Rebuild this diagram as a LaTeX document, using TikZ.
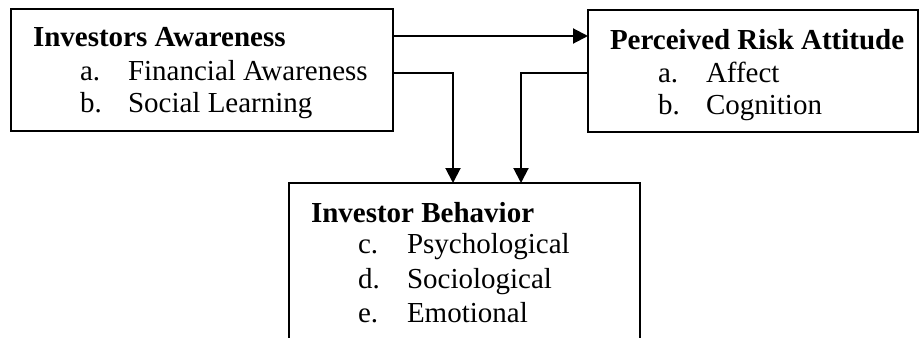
\documentclass[tikz,border=0pt]{standalone}
\usepackage{fontspec}
\setmainfont{Liberation Serif}
\usetikzlibrary{arrows.meta}
\begin{document}
\begin{tikzpicture}[x=1pt,y=-1pt,
  box/.style={draw, line width=2pt, rectangle, inner sep=0pt, outer sep=0pt},
  txt/.style={anchor=base west, inner sep=0pt, outer sep=0pt, font=\fontsize{29}{33}\selectfont},
  head/.style={txt, font=\fontsize{29}{33}\selectfont\bfseries},
  arr/.style={line width=2pt, -{Triangle[length=15pt,width=15pt]}}]
\clip (0,0) rectangle (920,337);
\fill[white] (0,0) rectangle (920,337);
% boxes
\node[box, minimum width=382pt, minimum height=121.5pt] (b1) at (202,70.25) {};
\node[box, minimum width=330pt, minimum height=122pt] (b2) at (753,71) {};
\node[box, minimum width=351pt, minimum height=217pt] (b3) at (464.5,291.5) {};
% box 1 text
\node[head] (h1) at (33,47) {Investors Awareness};
\node[txt] (l1a) at (80,81) {a.};
\node[txt] (t1a) at (128,81) {Financial Awareness};
\node[txt] (l1b) at (80,112) {b.};
\node[txt] (t1b) at (128,112) {Social Learning};
% box 2 text
\node[head] (h2) at (610,49) {Perceived Risk Attitude};
\node[txt] (l2a) at (658,82) {a.};
\node[txt] (t2a) at (706,82) {Affect};
\node[txt] (l2b) at (658,114) {b.};
\node[txt] (t2b) at (706,114) {Cognition};
% box 3 text
\node[head] (h3) at (311,222) {Investor Behavior};
\node[txt] (l3c) at (358,253) {c.};
\node[txt] (t3c) at (407,253) {Psychological};
\node[txt] (l3d) at (358,288) {d.};
\node[txt] (t3d) at (407,288) {Sociological};
\node[txt] (l3e) at (358,322) {e.};
\node[txt] (t3e) at (407,322) {Emotional};
% connectors
\coordinate (ya) at (0,36);
\coordinate (yb) at (0,73);
\coordinate (xa) at (453,0);
\coordinate (xb) at (521,0);
\draw[arr] (b1.east |- ya) -- (b2.west |- ya);
\draw[arr] (b1.east |- yb) -| (b3.north -| xa);
\draw[arr] (b2.west |- yb) -| (b3.north -| xb);
\end{tikzpicture}
\end{document}
